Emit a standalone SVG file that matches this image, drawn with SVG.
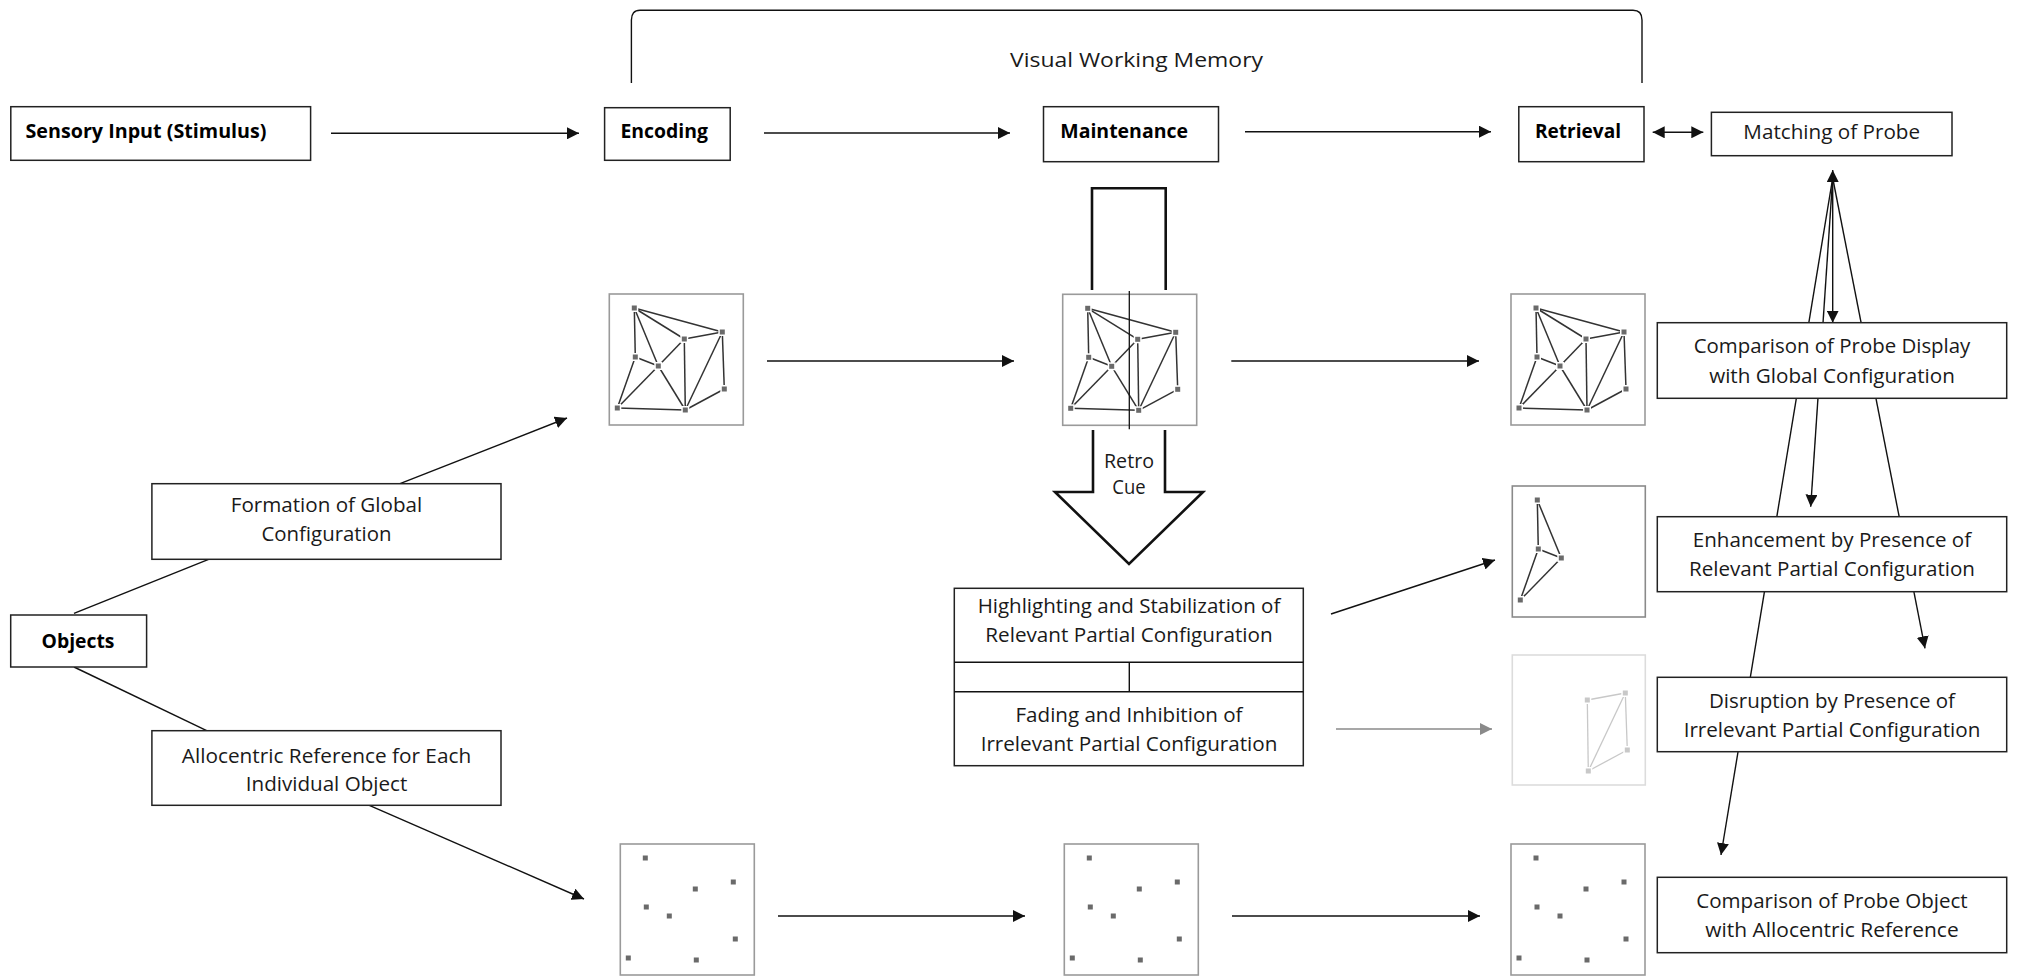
<svg xmlns="http://www.w3.org/2000/svg" xmlns:xlink="http://www.w3.org/1999/xlink" width="2017" height="976" viewBox="0 0 2017 976">
<style>
.box{fill:#fff;stroke:#222;stroke-width:1.5}
.t{font-family:"Open Sans","Noto Sans","Liberation Sans",sans-serif;font-size:20px;fill:#1a1a1a}
.b{font-weight:bold;fill:#000}
.m{text-anchor:middle}
.con{stroke:#111;stroke-width:1.4;fill:none}
.gcon{stroke:#8a8a8a;stroke-width:1.4;fill:none}
.pbox{fill:#fff;stroke:#9a9a9a;stroke-width:1.6}
.edge{stroke:#333;stroke-width:1.5}
.nd{fill:#6a6a6a;stroke:#fff;stroke-width:3;paint-order:stroke}
.fbox{fill:#fff;stroke:#dcdcdc;stroke-width:1.6}
.fedge{stroke:#c8c8c8;stroke-width:1.3}
.fnd{fill:#c8c8c8;stroke:#fff;stroke-width:3;paint-order:stroke}
.thick{stroke:#111;stroke-width:2.6;fill:none}
</style>
<defs>
<marker id="ah" markerUnits="userSpaceOnUse" markerWidth="13" markerHeight="12" refX="12" refY="6" orient="auto-start-reverse"><path d="M0,0 L12,6 L0,12 z" fill="#111"/></marker>
<marker id="gah" markerUnits="userSpaceOnUse" markerWidth="13" markerHeight="12" refX="12" refY="6" orient="auto-start-reverse"><path d="M0,0 L12,6 L0,12 z" fill="#8a8a8a"/></marker>
<g id="gnet">
<rect class="pbox" x="0" y="0" width="134" height="131"/>
<g class="edge">
<line x1="25" y1="14" x2="113" y2="38"/><line x1="25" y1="14" x2="75" y2="45"/><line x1="25" y1="14" x2="26" y2="63"/><line x1="25" y1="14" x2="49" y2="72"/>
<line x1="75" y1="45" x2="113" y2="38"/><line x1="75" y1="45" x2="49" y2="72"/><line x1="75" y1="45" x2="76" y2="116"/>
<line x1="113" y1="38" x2="76" y2="116"/><line x1="113" y1="38" x2="115" y2="95"/>
<line x1="26" y1="63" x2="49" y2="72"/><line x1="26" y1="63" x2="8" y2="114"/>
<line x1="49" y1="72" x2="8" y2="114"/><line x1="49" y1="72" x2="76" y2="116"/>
<line x1="8" y1="114" x2="76" y2="116"/><line x1="76" y1="116" x2="115" y2="95"/>
</g>
<g class="nd">
<rect x="22.5" y="11.5" width="5" height="5"/><rect x="110.5" y="35.5" width="5" height="5"/><rect x="72.5" y="42.5" width="5" height="5"/><rect x="23.5" y="60.5" width="5" height="5"/>
<rect x="46.5" y="69.5" width="5" height="5"/><rect x="112.5" y="92.5" width="5" height="5"/><rect x="5.5" y="111.5" width="5" height="5"/><rect x="73.5" y="113.5" width="5" height="5"/>
</g>
</g>
<g id="anet">
<rect class="pbox" x="0" y="0" width="134" height="131"/>
<g class="nd">
<rect x="22.5" y="11.5" width="5" height="5"/><rect x="110.5" y="35.5" width="5" height="5"/><rect x="72.5" y="42.5" width="5" height="5"/><rect x="23.5" y="60.5" width="5" height="5"/>
<rect x="46.5" y="69.5" width="5" height="5"/><rect x="112.5" y="92.5" width="5" height="5"/><rect x="5.5" y="111.5" width="5" height="5"/><rect x="73.5" y="113.5" width="5" height="5"/>
</g>
</g>
</defs>
<rect width="2017" height="976" fill="#fff"/>

<g id="bracket">
<path class="con" d="M631.4,83 V20 Q631.4,10.3 640,10.3 H1633 Q1642,10.3 1642,20 V83"/>
<text class="t" x="1010" y="67" textLength="253" lengthAdjust="spacingAndGlyphs">Visual Working Memory</text>
</g>

<g id="connectors">
<line class="con" x1="331" y1="133.3" x2="579" y2="133.3" marker-end="url(#ah)"/>
<line class="con" x1="764" y1="133" x2="1010" y2="133" marker-end="url(#ah)"/>
<line class="con" x1="1245" y1="131.7" x2="1491" y2="131.7" marker-end="url(#ah)"/>
<line class="con" x1="1652.7" y1="132.3" x2="1703.3" y2="132.3" marker-start="url(#ah)" marker-end="url(#ah)"/>
<line class="con" x1="767" y1="361" x2="1014" y2="361" marker-end="url(#ah)"/>
<line class="con" x1="1231.3" y1="361" x2="1479" y2="361" marker-end="url(#ah)"/>
<line class="con" x1="778" y1="916" x2="1025" y2="916" marker-end="url(#ah)"/>
<line class="con" x1="1232" y1="916" x2="1480" y2="916" marker-end="url(#ah)"/>
<line class="con" x1="74" y1="613.3" x2="208.6" y2="559.3"/>
<line class="con" x1="400" y1="483.7" x2="567" y2="418" marker-end="url(#ah)"/>
<line class="con" x1="74" y1="667" x2="206.7" y2="730.7"/>
<line class="con" x1="369.3" y1="805.3" x2="584" y2="899" marker-end="url(#ah)"/>
<line class="con" x1="1331" y1="614" x2="1495" y2="560" marker-end="url(#ah)"/>
<line class="gcon" x1="1336" y1="729" x2="1492" y2="729" marker-end="url(#gah)"/>
<line class="con" x1="1832.7" y1="178" x2="1721" y2="855" marker-end="url(#ah)"/>
<line class="con" x1="1832.7" y1="178" x2="1810.7" y2="506.7" marker-end="url(#ah)"/>
<line class="con" x1="1832.7" y1="170" x2="1832.7" y2="322.7" marker-start="url(#ah)" marker-end="url(#ah)"/>
<line class="con" x1="1832.7" y1="178" x2="1925" y2="648.3" marker-end="url(#ah)"/>
</g>

<g id="sensory"><rect class="box" x="10.8" y="106.7" width="299.8" height="53.6"/><text class="t b" x="25.5" y="137.5" textLength="241" lengthAdjust="spacingAndGlyphs">Sensory Input (Stimulus)</text></g>
<g id="encoding"><rect class="box" x="604.6" y="107.7" width="125.6" height="52.6"/><text class="t b" x="620.5" y="137.5" textLength="87.5" lengthAdjust="spacingAndGlyphs">Encoding</text></g>
<g id="maintenance"><rect class="box" x="1043.5" y="106.7" width="175" height="55"/><text class="t b" x="1060.3" y="137.5" textLength="127.7" lengthAdjust="spacingAndGlyphs">Maintenance</text></g>
<g id="retrieval"><rect class="box" x="1518.8" y="106.7" width="125.2" height="55"/><text class="t b" x="1535" y="137.5" textLength="86" lengthAdjust="spacingAndGlyphs">Retrieval</text></g>
<g id="matching"><rect class="box" x="1711.4" y="112.3" width="240.6" height="43.4"/><text class="t m" x="1831.7" y="139" textLength="176.7" lengthAdjust="spacingAndGlyphs">Matching of Probe</text></g>

<g id="global-encoding"><use xlink:href="#gnet" href="#gnet" transform="translate(609.3,294)"/></g>
<g id="global-maintenance">
<use xlink:href="#gnet" href="#gnet" transform="translate(1062.7,294.3)"/>
<path class="thick" d="M1092,290 V188.3 H1165.7 V290"/>
<line stroke="#111" stroke-width="1.3" x1="1129.3" y1="291" x2="1129.3" y2="429.3"/>
</g>
<g id="global-retrieval"><use xlink:href="#gnet" href="#gnet" transform="translate(1511,294)"/></g>

<g id="retro-cue">
<path class="thick" d="M1093,430 V492 H1055 L1129,564 L1203,492 H1165 V430"/>
<text class="t m" x="1129" y="468" textLength="50" lengthAdjust="spacingAndGlyphs">Retro</text>
<text class="t m" x="1129" y="494" textLength="33.3" lengthAdjust="spacingAndGlyphs">Cue</text>
</g>

<g id="highlighting">
<rect class="box" x="954.3" y="588.3" width="349" height="177.4"/>
<line class="con" x1="954.3" y1="662.3" x2="1303.3" y2="662.3"/>
<line class="con" x1="954.3" y1="691.7" x2="1303.3" y2="691.7"/>
<line class="con" x1="1129.3" y1="662.3" x2="1129.3" y2="691.7"/>
<text class="t m" x="1129" y="613" textLength="302.7" lengthAdjust="spacingAndGlyphs">Highlighting and Stabilization of</text>
<text class="t m" x="1129" y="642" textLength="287.3" lengthAdjust="spacingAndGlyphs">Relevant Partial Configuration</text>
<text class="t m" x="1129" y="721.7" textLength="227" lengthAdjust="spacingAndGlyphs">Fading and Inhibition of</text>
<text class="t m" x="1129" y="751" textLength="296.7" lengthAdjust="spacingAndGlyphs">Irrelevant Partial Configuration</text>
</g>

<g id="relevant-partial" transform="translate(1512.3,486)">
<rect class="pbox" x="0" y="0" width="133" height="131" style="stroke:#8a8a8a"/>
<g class="edge">
<line x1="25" y1="14" x2="26" y2="63"/><line x1="25" y1="14" x2="49" y2="72"/><line x1="26" y1="63" x2="49" y2="72"/><line x1="26" y1="63" x2="8" y2="114"/><line x1="49" y1="72" x2="8" y2="114"/>
</g>
<g class="nd"><rect x="22.5" y="11.5" width="5" height="5"/><rect x="23.5" y="60.5" width="5" height="5"/><rect x="46.5" y="69.5" width="5" height="5"/><rect x="5.5" y="111.5" width="5" height="5"/></g>
</g>

<g id="irrelevant-partial" transform="translate(1512.3,655)">
<rect class="fbox" x="0" y="0" width="133" height="130"/>
<g class="fedge">
<line x1="75" y1="45" x2="113" y2="38"/><line x1="75" y1="45" x2="76" y2="116"/><line x1="113" y1="38" x2="76" y2="116"/><line x1="113" y1="38" x2="115" y2="95"/><line x1="76" y1="116" x2="115" y2="95"/>
</g>
<g class="fnd"><rect x="72.5" y="42.5" width="5" height="5"/><rect x="110.5" y="35.5" width="5" height="5"/><rect x="112.5" y="92.5" width="5" height="5"/><rect x="73.5" y="113.5" width="5" height="5"/></g>
</g>

<g id="allo-encoding"><use xlink:href="#anet" href="#anet" transform="translate(620.3,844)"/></g>
<g id="allo-maintenance"><use xlink:href="#anet" href="#anet" transform="translate(1064.3,844)"/></g>
<g id="allo-retrieval"><use xlink:href="#anet" href="#anet" transform="translate(1511,844)"/></g>

<g id="objects"><rect class="box" x="10.7" y="615" width="135.9" height="52"/><text class="t b m" x="78" y="648" textLength="73" lengthAdjust="spacingAndGlyphs">Objects</text></g>
<g id="formation"><rect class="box" x="151.9" y="483.7" width="349.1" height="75.6"/><text class="t m" x="326.5" y="512.3" textLength="191.4" lengthAdjust="spacingAndGlyphs">Formation of Global</text><text class="t m" x="326.5" y="541" textLength="130" lengthAdjust="spacingAndGlyphs">Configuration</text></g>
<g id="allocentric"><rect class="box" x="151.9" y="730.7" width="349.1" height="74.6"/><text class="t m" x="326.5" y="763" textLength="289.3" lengthAdjust="spacingAndGlyphs">Allocentric Reference for Each</text><text class="t m" x="326.5" y="791" textLength="161.5" lengthAdjust="spacingAndGlyphs">Individual Object</text></g>

<g id="comparison-display"><rect class="box" x="1657.3" y="322.7" width="349.4" height="75.6"/><text class="t m" x="1832" y="353.3" textLength="276.7" lengthAdjust="spacingAndGlyphs">Comparison of Probe Display</text><text class="t m" x="1832" y="382.7" textLength="245.7" lengthAdjust="spacingAndGlyphs">with Global Configuration</text></g>
<g id="enhancement"><rect class="box" x="1657.3" y="516.7" width="349.4" height="75"/><text class="t m" x="1832" y="546.7" textLength="278.3" lengthAdjust="spacingAndGlyphs">Enhancement by Presence of</text><text class="t m" x="1832" y="575.7" textLength="286" lengthAdjust="spacingAndGlyphs">Relevant Partial Configuration</text></g>
<g id="disruption"><rect class="box" x="1657.3" y="677.3" width="349.4" height="74.4"/><text class="t m" x="1832" y="707.7" textLength="246" lengthAdjust="spacingAndGlyphs">Disruption by Presence of</text><text class="t m" x="1832" y="736.7" textLength="296.7" lengthAdjust="spacingAndGlyphs">Irrelevant Partial Configuration</text></g>
<g id="comparison-object"><rect class="box" x="1657.3" y="877.3" width="349.4" height="75.4"/><text class="t m" x="1832" y="907.7" textLength="271.3" lengthAdjust="spacingAndGlyphs">Comparison of Probe Object</text><text class="t m" x="1832" y="936.7" textLength="253.3" lengthAdjust="spacingAndGlyphs">with Allocentric Reference</text></g>
</svg>
